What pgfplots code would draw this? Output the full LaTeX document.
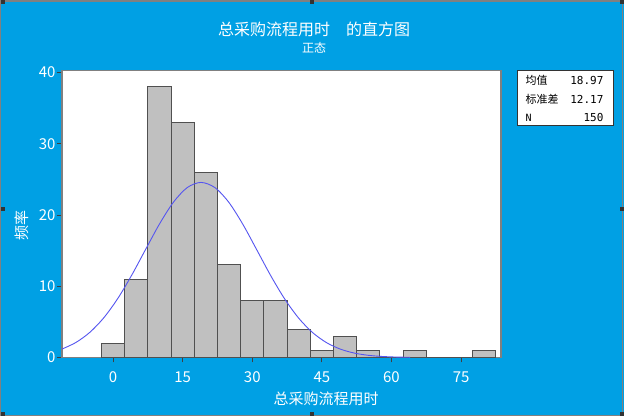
\documentclass[border=0pt]{standalone}
\usepackage{pgfplots}
\pgfplotsset{compat=1.18}
\usepackage{fontspec}
\setmainfont{Noto Sans CJK SC}
\newfontfamily\mono{DejaVu Sans Mono}
\definecolor{bg}{RGB}{0,160,228}
\definecolor{barfill}{RGB}{192,192,192}
\definecolor{baredge}{RGB}{80,80,80}
\definecolor{curve}{RGB}{85,85,240}
\definecolor{frame}{RGB}{128,128,128}
\begin{document}
\begin{tikzpicture}[x=1pt,y=1pt]
\fill[bg] (0,0) rectangle (624,416);
\draw[frame,line width=1.2pt] (0.6,0.6) rectangle (622.4,415.4);
% selection handles
\foreach \p in {(0,0),(309,0),(619,0),(0,205),(619,205),(0,412),(309,412),(619,412)}{
  \fill[black!80] \p ++(0.5,0.5) rectangle ++(4,4);
}
\begin{axis}[
  name=main,
  at={(62pt,59pt)}, anchor=south west,
  width=439pt, height=287pt, scale only axis,
  xmin=-11, xmax=83.6, ymin=0, ymax=40.3,
  xtick={0,15,30,45,60,75}, ytick={0,10,20,30,40},
  xtick pos=left, ytick pos=left,
  tick align=outside,
  major tick length=5pt,
  tick style={black!75, line width=0.8pt},
  axis line style={frame, line width=1.3pt},
  axis background/.style={fill=white},
  /pgf/number format/assume math mode=true,
  tick label style={white, font=\fontsize{15}{15}\selectfont},
  xticklabel style={yshift=-6pt},
  yticklabel style={xshift=2pt},
  clip=true,
]
\addplot[ybar, bar width=5, bar shift=0pt, fill=barfill, draw=baredge, line width=1pt]
coordinates {(0,2) (5,11) (10,38) (15,33) (20,26) (25,13) (30,8) (35,8) (40,4) (45,1) (50,3) (55,1) (60,0) (65,1) (70,0) (75,0) (80,1)};
\addplot[curve, line width=0.9pt, smooth, no marks]
coordinates {(-11,1.185) (-8,2.110) (-5,3.534) (-2,5.571) (1,8.264) (4,11.537) (7,15.156) (10,18.737) (13,21.798) (16,23.864) (18.97,24.585) (22,23.835) (25,21.745) (28,18.669) (31,15.083) (34,11.468) (37,8.205) (40,5.524) (43,3.500) (46,2.087) (49,1.171) (52,0.618) (55,0.307) (58,0.144) (61,0.063) (64,0.026)};
\end{axis}
% titles and labels
\node[white, font=\fontsize{16}{16}\selectfont] at (314,387) {总采购流程用时　的直方图};
\node[white, font=\fontsize{12}{12}\selectfont] at (314,369) {正态};
\node[white, font=\fontsize{15}{15}\selectfont] at (326,18) {总采购流程用时};
\node[white, font=\fontsize{15}{15}\selectfont, rotate=90] at (22,191) {频率};
% statistics box
\draw[black!80, fill=white, line width=0.8pt] (517,291) rectangle (613,346);
\node[anchor=west, font=\fontsize{11}{11}\selectfont] at (522,336) {均值};
\node[anchor=west, font=\fontsize{11}{11}\selectfont] at (522,317) {标准差};
\node[anchor=west, font=\mono\fontsize{10}{10}\selectfont] at (522,299) {N};
\node[anchor=east, font=\mono\fontsize{11}{11}\selectfont] at (607,336) {18.97};
\node[anchor=east, font=\mono\fontsize{11}{11}\selectfont] at (607,317) {12.17};
\node[anchor=east, font=\mono\fontsize{11}{11}\selectfont] at (607,299) {150};
\end{tikzpicture}
\end{document}
